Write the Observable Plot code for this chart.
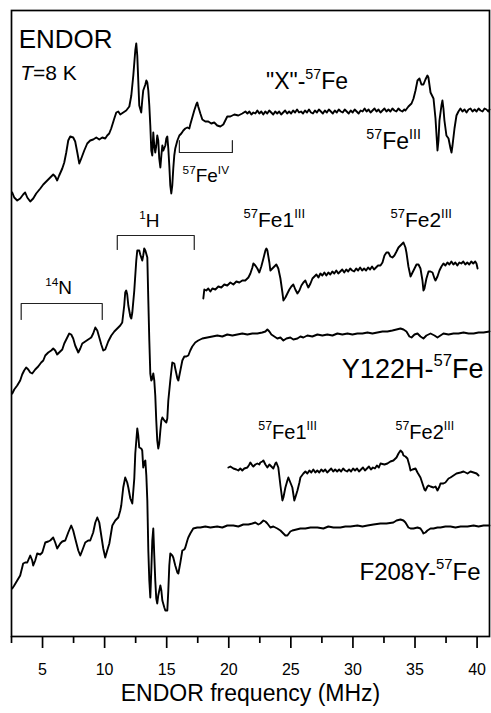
<!DOCTYPE html>
<html>
<head>
<meta charset="utf-8">
<script src="https://cdn.jsdelivr.net/npm/d3@7"></script>
<script src="https://cdn.jsdelivr.net/npm/@observablehq/plot@0.6"></script>
<style>
  html, body { margin: 0; padding: 0; background: #fff; overflow: hidden; }
</style>
</head>
<body>
<div id="chart"></div>
<script>
// ---- Spectra: [frequency (MHz), ENDOR intensity (a.u., relative to each trace's baseline)] ----
const spectrumX57Fe = [[2.56,-82],[2.72,-87],[2.96,-90],[3.20,-88],[3.44,-84],[3.60,-82],[3.77,-87],[4.01,-91],[4.25,-88],[4.49,-83],[4.82,-78],[5.06,-74],[5.38,-70],[5.62,-67],[5.86,-64],[6.02,-66],[6.18,-70],[6.34,-65],[6.59,-58],[6.75,-52],[6.91,-42],[7.07,-30],[7.23,-26],[7.47,-27],[7.63,-31],[7.80,-42],[7.96,-53],[8.12,-48],[8.36,-40],[8.60,-33],[8.84,-30],[9.08,-29],[9.33,-27],[9.57,-29],[9.81,-27],[10.05,-28],[10.21,-25],[10.37,-23],[10.53,-18],[10.78,-8],[10.94,-2],[11.10,-1],[11.26,-4],[11.50,-2],[11.74,0],[11.99,4],[12.15,15],[12.31,35],[12.47,60],[12.55,67],[12.63,55],[12.71,30],[12.79,5],[12.95,-2],[13.03,10],[13.11,20],[13.28,26],[13.36,30],[13.44,28],[13.52,20],[13.60,5],[13.68,-15],[13.76,-40],[13.84,-45],[13.92,-22],[14.00,-35],[14.08,-42],[14.16,-35],[14.24,-25],[14.32,-30],[14.40,-48],[14.49,-57],[14.57,-45],[14.65,-35],[14.73,-40],[14.89,-35],[14.97,-28],[15.05,-26],[15.13,-38],[15.21,-55],[15.29,-75],[15.37,-83],[15.45,-75],[15.53,-58],[15.61,-45],[15.69,-38],[15.86,-30],[16.02,-25],[16.18,-23],[16.34,-20],[16.50,-18],[16.66,-17],[16.82,-18],[16.90,-14],[17.06,-7],[17.22,0],[17.38,6],[17.46,8],[17.54,4],[17.71,-3],[17.87,-9],[18.11,-11],[18.35,-11],[18.59,-13],[18.83,-12],[19.07,-15],[19.32,-16],[19.56,-14],[19.72,-10],[19.88,-6],[20.13,-6],[20.45,-4],[20.77,-5],[21.09,-3],[21.34,-1],[21.50,-3],[21.66,-1],[21.82,-4],[21.98,-2],[22.14,-3],[22.30,0],[22.46,-3],[22.62,-1],[22.78,-4],[22.94,-1],[23.10,-3],[23.26,0],[23.42,-2],[23.58,-4],[23.74,-1],[23.90,-3],[24.06,-1],[24.22,-4],[24.38,-2],[24.54,0],[24.70,-3],[24.86,-1],[25.02,-3],[25.18,0],[25.34,-2],[25.50,1],[25.66,-2],[25.82,-1],[25.98,-3],[26.14,0],[26.30,-2],[26.46,1],[26.62,-2],[26.78,-3],[26.94,0],[27.10,-2],[27.26,1],[27.42,-1],[27.58,-3],[27.74,0],[27.90,-2],[28.06,1],[28.22,-1],[28.38,-3],[28.54,0],[28.70,-2],[28.86,1],[29.02,-1],[29.18,-2],[29.34,1],[29.50,-1],[29.66,-3],[29.82,0],[29.98,-2],[30.14,1],[30.30,-1],[30.46,-3],[30.62,0],[30.78,-1],[30.94,2],[31.10,-1],[31.26,1],[31.42,-2],[31.58,0],[31.74,2],[31.90,-1],[32.06,1],[32.22,-2],[32.38,0],[32.54,2],[32.70,-1],[32.86,1],[33.02,-1],[33.18,2],[33.34,0],[33.50,-1],[33.66,2],[33.82,0],[33.98,-1],[34.14,1],[34.23,0],[34.47,4],[34.72,7],[34.88,12],[35.04,20],[35.20,30],[35.36,32],[35.52,26],[35.68,26],[35.84,31],[36.00,35],[36.08,33],[36.25,18],[36.49,12],[36.65,-8],[36.81,-40],[36.89,-30],[36.97,-10],[37.13,5],[37.21,10],[37.29,2],[37.37,-10],[37.53,-25],[37.70,-28],[37.86,-38],[37.94,-42],[38.02,-35],[38.18,-18],[38.34,-5],[38.50,-1],[38.66,2],[38.82,-1],[38.99,1],[39.15,-2],[39.31,1],[39.47,2],[39.63,-1],[39.80,1],[39.96,-1],[40.12,2],[40.28,0],[40.44,-1],[40.60,2],[40.76,1],[40.90,-1],[41.00,1]];

const spectrumY122H = [[2.56,-60],[2.72,-56],[2.96,-52],[3.20,-47],[3.36,-41],[3.52,-37],[3.68,-34],[3.85,-36],[4.01,-39],[4.17,-40],[4.41,-36],[4.65,-33],[4.89,-29],[5.06,-27],[5.22,-22],[5.46,-19],[5.70,-17],[5.86,-15],[6.02,-17],[6.18,-21],[6.34,-19],[6.59,-16],[6.75,-10],[6.99,-4],[7.15,0],[7.31,-1],[7.47,-5],[7.63,-12],[7.88,-19],[8.04,-15],[8.20,-10],[8.44,-8],[8.68,-6],[8.92,-4],[9.08,0],[9.25,6],[9.41,3],[9.57,-4],[9.73,-11],[9.89,-17],[10.05,-16],[10.29,-8],[10.54,-2],[10.78,2],[11.02,5],[11.26,8],[11.42,11],[11.58,28],[11.66,41],[11.74,43],[11.82,39],[11.91,28],[12.07,17],[12.15,15],[12.23,21],[12.39,43],[12.55,73],[12.63,83],[12.79,83],[12.87,79],[13.03,73],[13.11,78],[13.19,85],[13.28,83],[13.44,76],[13.52,33],[13.60,-7],[13.68,-40],[13.76,-47],[13.84,-45],[13.92,-40],[14.00,-47],[14.08,-62],[14.16,-87],[14.24,-107],[14.32,-115],[14.40,-110],[14.49,-97],[14.57,-87],[14.65,-84],[14.81,-87],[14.97,-89],[15.05,-85],[15.13,-67],[15.29,-47],[15.45,-29],[15.61,-30],[15.69,-35],[15.86,-45],[15.94,-47],[16.10,-37],[16.26,-27],[16.42,-23],[16.58,-23],[16.74,-22],[16.90,-17],[17.06,-13],[17.30,-9],[17.54,-7],[17.87,-5],[18.27,-4],[18.68,-3],[19.08,-2],[19.48,-3],[19.88,-1],[20.29,-2],[20.69,-1],[21.09,0],[21.50,-1],[21.90,0],[22.30,0],[22.70,1],[22.95,2],[23.11,4],[23.27,2],[23.43,-1],[23.67,-3],[23.91,-5],[24.16,-4],[24.40,-7],[24.64,-5],[24.96,-4],[25.20,-6],[25.53,-5],[25.77,-3],[26.01,-4],[26.33,-2],[26.73,-3],[27.14,-1],[27.54,-2],[27.94,-1],[28.35,-2],[28.75,0],[29.15,-1],[29.56,0],[29.96,-1],[30.36,0],[30.77,0],[31.17,1],[31.57,0],[31.97,1],[32.38,2],[32.78,2],[33.18,3],[33.51,4],[33.83,5],[34.07,4],[34.31,2],[34.55,-3],[34.72,-4],[34.96,-1],[35.20,0],[35.44,-3],[35.68,-5],[35.92,-2],[36.25,0],[36.57,-2],[36.81,-4],[37.05,-2],[37.29,0],[37.70,-1],[38.10,0],[38.50,0],[38.91,1],[39.31,0],[39.72,0],[40.12,1],[40.52,1],[41.00,2]];

const spectrumY122HExpanded = [[17.95,-28],[18.03,-19],[18.19,-20],[18.35,-18],[18.52,-21],[18.68,-18],[18.92,-19],[19.16,-16],[19.40,-17],[19.64,-14],[19.88,-15],[20.13,-12],[20.37,-14],[20.61,-11],[20.85,-12],[21.09,-10],[21.33,-10],[21.58,-7],[21.74,-3],[21.90,3],[21.98,7],[22.14,5],[22.30,2],[22.46,-2],[22.62,4],[22.79,12],[22.95,20],[23.03,22],[23.11,20],[23.27,8],[23.35,0],[23.51,2],[23.67,4],[23.83,6],[23.99,2],[24.16,-8],[24.32,-22],[24.40,-30],[24.56,-27],[24.72,-23],[24.88,-19],[25.04,-16],[25.20,-14],[25.36,-19],[25.53,-23],[25.69,-20],[25.85,-15],[26.01,-12],[26.17,-10],[26.33,-15],[26.41,-17],[26.58,-13],[26.74,-8],[26.90,-6],[27.06,-4],[27.22,-7],[27.38,-3],[27.54,-5],[27.70,-2],[27.86,-5],[28.02,-2],[28.18,-4],[28.34,-1],[28.50,-3],[28.66,0],[28.82,-3],[28.98,-1],[29.14,1],[29.30,-2],[29.46,1],[29.62,-1],[29.78,2],[29.94,0],[30.10,-1],[30.26,2],[30.42,0],[30.58,3],[30.74,0],[30.90,2],[31.06,0],[31.22,3],[31.38,1],[31.54,4],[31.70,1],[31.86,3],[32.02,5],[32.22,5],[32.38,8],[32.54,15],[32.70,18],[32.86,18],[33.02,14],[33.18,13],[33.34,15],[33.51,19],[33.67,23],[33.83,25],[33.99,27],[34.07,28],[34.23,23],[34.31,18],[34.47,4],[34.64,-6],[34.80,-2],[34.96,2],[35.12,6],[35.28,6],[35.44,2],[35.60,-10],[35.68,-20],[35.76,-18],[35.92,-8],[36.09,-1],[36.25,-1],[36.41,-2],[36.57,-8],[36.65,-10],[36.81,-6],[36.97,0],[37.13,4],[37.29,7],[37.45,5],[37.61,8],[37.77,6],[37.93,9],[38.09,6],[38.25,8],[38.41,5],[38.57,8],[38.73,7],[38.89,9],[39.05,6],[39.21,8],[39.37,6],[39.53,9],[39.69,7],[39.85,9],[39.95,7],[40.04,2]];

const spectrumF208Y = [[2.56,-62],[2.72,-59],[2.96,-54],[3.20,-49],[3.44,-37],[3.60,-36],[3.77,-36],[4.01,-29],[4.17,-34],[4.25,-39],[4.41,-34],[4.57,-27],[4.82,-28],[4.98,-26],[5.22,-16],[5.46,-15],[5.62,-14],[5.86,-11],[6.02,-16],[6.18,-22],[6.43,-17],[6.59,-15],[6.83,-14],[7.07,-6],[7.31,1],[7.47,-4],[7.63,-12],[7.88,-24],[8.04,-29],[8.20,-24],[8.44,-16],[8.68,-14],[8.84,-14],[9.08,-6],[9.25,4],[9.41,9],[9.57,4],[9.73,-9],[9.89,-22],[10.05,-31],[10.21,-24],[10.38,-17],[10.62,1],[10.86,6],[11.10,9],[11.26,16],[11.34,21],[11.50,39],[11.66,49],[11.82,44],[11.91,39],[12.07,28],[12.23,23],[12.39,48],[12.47,73],[12.63,98],[12.71,91],[12.79,79],[12.95,78],[13.03,76],[13.11,59],[13.19,64],[13.28,66],[13.36,51],[13.44,26],[13.52,-24],[13.60,-54],[13.68,-71],[13.76,-44],[13.84,-14],[13.92,-2],[14.00,-29],[14.08,-54],[14.16,-72],[14.24,-77],[14.32,-69],[14.49,-59],[14.57,-64],[14.65,-74],[14.81,-81],[14.89,-84],[15.05,-84],[15.13,-64],[15.21,-39],[15.29,-27],[15.45,-29],[15.53,-31],[15.69,-39],[15.86,-46],[15.94,-47],[16.10,-36],[16.26,-24],[16.42,-23],[16.50,-21],[16.66,-14],[16.74,-11],[16.90,-7],[17.14,-2],[17.46,-1],[17.71,-1],[18.11,0],[18.52,-1],[19.07,0],[19.48,-1],[19.88,1],[20.37,1],[20.77,0],[21.17,2],[21.58,2],[21.90,3],[22.14,4],[22.38,2],[22.54,3],[22.79,6],[22.95,5],[23.11,3],[23.35,-1],[23.59,0],[23.91,-2],[24.16,-4],[24.40,-7],[24.56,-9],[24.72,-9],[24.96,-5],[25.12,-4],[25.45,-3],[25.77,-2],[26.17,-2],[26.58,-1],[27.14,-1],[27.62,-2],[28.02,0],[28.43,-1],[28.99,-1],[29.39,0],[29.80,0],[30.36,1],[30.77,0],[31.17,1],[31.65,2],[32.22,3],[32.70,3],[33.26,4],[33.51,6],[33.83,7],[34.07,6],[34.23,4],[34.47,-1],[34.64,-2],[34.88,-2],[35.20,-1],[35.44,-2],[35.60,-5],[35.68,-7],[35.84,-6],[36.00,-4],[36.25,-2],[36.49,-2],[36.81,-1],[37.05,-1],[37.45,0],[37.86,0],[38.26,-1],[38.67,0],[39.23,0],[39.72,1],[40.12,0],[40.52,1],[41.00,1]];

const spectrumF208YExpanded = [[19.97,3],[20.13,4],[20.37,2],[20.61,1],[20.77,0],[20.93,2],[21.09,0],[21.25,2],[21.50,3],[21.66,6],[21.74,8],[21.90,5],[21.98,4],[22.14,6],[22.30,7],[22.46,6],[22.54,8],[22.70,9],[22.79,10],[22.95,6],[23.11,3],[23.27,6],[23.35,5],[23.51,3],[23.59,2],[23.75,7],[23.83,8],[23.99,3],[24.16,-15],[24.32,-30],[24.40,-27],[24.56,-17],[24.72,-10],[24.80,-7],[24.96,-12],[25.12,-17],[25.28,-30],[25.36,-27],[25.53,-20],[25.69,-12],[25.77,-7],[26.01,-3],[26.17,-1],[26.33,-3],[26.49,0],[26.65,-2],[26.81,1],[26.97,-2],[27.13,0],[27.29,-2],[27.45,1],[27.61,-1],[27.77,1],[27.93,-2],[28.09,0],[28.25,2],[28.41,-1],[28.57,1],[28.73,-1],[28.89,1],[29.05,-1],[29.21,2],[29.37,0],[29.53,-1],[29.69,1],[29.85,-1],[30.01,2],[30.17,0],[30.33,2],[30.49,-1],[30.65,1],[30.81,3],[30.97,0],[31.13,2],[31.29,4],[31.45,1],[31.61,3],[31.77,2],[31.93,5],[32.09,3],[32.22,7],[32.54,6],[32.78,7],[33.02,9],[33.26,10],[33.51,13],[33.67,17],[33.83,20],[33.99,18],[34.07,15],[34.23,14],[34.39,12],[34.55,5],[34.64,0],[34.80,1],[35.04,2],[35.20,-2],[35.44,-7],[35.60,-13],[35.76,-19],[35.84,-20],[36.00,-16],[36.09,-15],[36.25,-16],[36.49,-17],[36.65,-16],[36.81,-20],[36.97,-16],[37.05,-13],[37.29,-13],[37.45,-12],[37.70,-8],[37.86,-7],[38.10,-5],[38.34,-3],[38.67,-2],[38.91,-1],[39.23,-3],[39.47,-1],[39.72,-2],[39.96,-3],[40.12,-5]];

// ---- Axis ticks ----
const majorTicks = [5, 10, 15, 20, 25, 30, 35, 40];
const minorTicks = [2.5, 7.5, 12.5, 17.5, 22.5, 27.5, 32.5, 37.5];
const xLabel = "ENDOR frequency (MHz)";

// ---- Annotation texts (^..^ = superscript, _.._ = italic) ----
const titleTexts = ["ENDOR", "_T_=8 K"];
const sampleNames = ['"X"-^57^Fe', "Y122H-^57^Fe", "F208Y-^57^Fe"];
const siteLabels = ["^57^Fe^III^", "^57^Fe^IV^", "^1^H", "^14^N", "^57^Fe1^III^", "^57^Fe2^III^", "^57^Fe1^III^", "^57^Fe2^III^"];
const bracketRanges = [[3.28, 9.81], [11.02, 17.22], [16.02, 20.29]]; // 14N, 1H, 57FeIV (MHz)

// ---------------- layout (code side) ----------------
const traces = [
  {data: spectrumX57Fe, offset: 526},
  {data: spectrumY122H, offset: 303},
  {data: spectrumY122HExpanded, offset: 366},
  {data: spectrumF208Y, offset: 110},
  {data: spectrumF208YExpanded, offset: 166}
];
const lineRows = traces.flatMap((t, i) => t.data.map(([f, v]) => ({f, v: v + t.offset, id: i})));

const startLabels = [
  {t: titleTexts[0], f: 3.08, a: 607, s: 26},
  {t: titleTexts[1], f: 3.20, a: 571, s: 21},
  {t: sampleNames[0], f: 23.0, a: 564, s: 23},
  {t: siteLabels[0], f: 31.08, a: 504, s: 23},
  {t: siteLabels[1], f: 16.28, a: 468, s: 19},
  {t: siteLabels[2], f: 12.79, a: 423, s: 19},
  {t: siteLabels[3], f: 5.22, a: 356, s: 19},
  {t: siteLabels[4], f: 21.19, a: 424, s: 21},
  {t: siteLabels[5], f: 33.02, a: 424, s: 21},
  {t: siteLabels[6], f: 22.38, a: 212, s: 20},
  {t: siteLabels[7], f: 33.43, a: 212, s: 20}
];
const endLabels = [
  {t: sampleNames[1], f: 40.52, a: 278, s: 27},
  {t: sampleNames[2], f: 40.28, a: 74, s: 24}
];
const bracketSpec = [{level: 333, tick: -16}, {level: 401, tick: -14}, {level: 484, tick: 12}];
const bracketRows = bracketRanges.flatMap(([a, b], i) => {
  const {level, tick} = bracketSpec[i];
  return [[a, level + tick], [a, level], [b, level], [b, level + tick]].map(([f, v]) => ({f, v, id: i}));
});

const FONT = "'Liberation Sans', Arial, Helvetica, sans-serif";

const chart = Plot.plot({
  width: 491,
  height: 713,
  marginLeft: 11,
  marginRight: 2,
  marginTop: 10,
  marginBottom: 77,
  style: {fontFamily: FONT, background: "#fff", color: "#000", overflow: "visible"},
  x: {domain: [2.5, 41]},
  y: {domain: [0, 626], axis: null},
  marks: [
    Plot.line(lineRows, {x: "f", y: "v", z: "id", stroke: "#000", strokeWidth: 1.9, strokeLinejoin: "round"}),
    Plot.line(bracketRows, {x: "f", y: "v", z: "id", stroke: "#222", strokeWidth: 1.2}),
    Plot.text(startLabels, {x: "f", y: "a", text: "t", fontSize: "s", textAnchor: "start", lineAnchor: "top", fill: "#000"}),
    Plot.text(endLabels, {x: "f", y: "a", text: "t", fontSize: "s", textAnchor: "end", lineAnchor: "top", fill: "#000"}),
    Plot.axisX({ticks: majorTicks, tickSize: 12, tickPadding: 15, fontSize: 16, label: null, strokeWidth: 1.7}),
    Plot.axisX({ticks: minorTicks, tickSize: 7, tickFormat: () => "", label: null, strokeWidth: 1.7}),
    Plot.text([xLabel], {frameAnchor: "bottom", dy: 64, text: d => d, fontSize: 23, fill: "#000"}),
    Plot.frame({stroke: "#000", strokeWidth: 1.7})
  ]
});

// rich text: superscripts and italics as tspans
d3.select(chart).selectAll("text").each(function () {
  const s = this.textContent;
  if (!/[\^_]/.test(s)) return;
  const el = d3.select(this);
  el.text(null);
  const parts = s.split(/(\^[^^]*\^|_[^_]*_)/).filter(p => p !== "");
  let raised = false;
  for (const p of parts) {
    if (p[0] === "^") {
      el.append("tspan").attr("font-size", "62%").attr("dy", "-0.7em").text(p.slice(1, -1));
      raised = true;
    } else {
      const italic = p[0] === "_";
      const t = el.append("tspan").text(italic ? p.slice(1, -1) : p);
      if (italic) t.attr("font-style", "italic");
      if (raised) { t.attr("dy", "0.434em"); raised = false; }
    }
  }
});

document.getElementById("chart").appendChild(chart);
</script>
</body>
</html>
